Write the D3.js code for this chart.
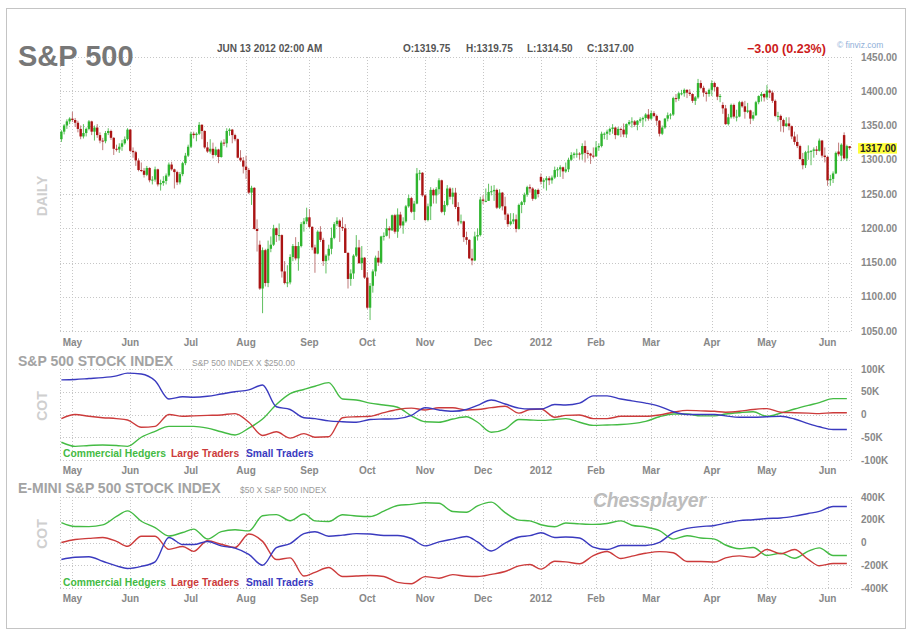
<!DOCTYPE html>
<html>
<head>
<meta charset="utf-8">
<script src="https://cdn.jsdelivr.net/npm/d3@7"></script>
<style>
  body { margin: 0; background: #fff; }
</style>
</head>
<body>
<script>
const FONT = 'Liberation Sans, Arial, Helvetica, sans-serif'
const GRID = '#c6c6c6'
const TXT = '#888888'
const UP = '#2fb52f', UP_WICK = '#5fbf5f'
const DOWN = '#aa1414', DOWN_WICK = '#c07a7a'
const C_HEDGE = '#44bb44', C_LARGE = '#cc3b3b', C_SMALL = '#3a3abf'

// trading calendar
const firstDay = '2011-04-26', lastDay = '2012-06-13'
const holidays = ['2011-05-30', '2011-07-04', '2011-09-05', '2011-11-24', '2011-12-26',
  '2012-01-02', '2012-01-16', '2012-02-20', '2012-04-06', '2012-05-28']

// daily bars [open, high, low, close]
const ohlc = [
  // Apr 2011
  [1330,1343,1326,1341],[1341,1352,1337,1350],[1350,1359,1345,1356],[1356,1362,1352,1360],
  // May
  [1360,1370,1355,1358],[1358,1361,1348,1354],[1354,1357,1340,1345],[1345,1350,1330,1334],[1334,1352,1331,1339],
  [1339,1347,1334,1345],[1345,1358,1343,1356],[1356,1357,1336,1341],[1341,1350,1328,1347],[1347,1352,1332,1336],
  [1336,1340,1324,1328],[1328,1332,1314,1327],[1327,1342,1324,1339],[1339,1346,1336,1342],[1342,1344,1329,1332],
  [1332,1333,1307,1316],[1316,1322,1312,1315],[1315,1324,1310,1319],[1319,1329,1313,1324],[1324,1334,1322,1330],
  [1330,1346,1328,1344],
  // Jun
  [1344,1345,1311,1313],[1313,1318,1303,1311],[1311,1313,1291,1299],[1299,1302,1283,1285],[1285,1296,1282,1284],
  [1284,1288,1274,1278],[1278,1291,1276,1288],[1288,1289,1267,1270],[1270,1276,1264,1271],[1271,1290,1268,1286],
  [1286,1287,1261,1264],[1264,1271,1255,1266],[1266,1276,1262,1269],[1269,1280,1264,1277],[1277,1296,1275,1293],
  [1293,1297,1284,1286],[1286,1287,1258,1282],[1282,1284,1263,1267],[1267,1282,1264,1279],[1279,1297,1276,1295],
  [1295,1310,1292,1306],[1306,1322,1304,1319],
  // Jul
  [1319,1341,1317,1338],[1338,1341,1331,1336],[1336,1340,1327,1338],[1338,1355,1336,1351],[1351,1352,1330,1342],
  [1342,1343,1316,1318],[1318,1326,1310,1312],[1312,1330,1309,1316],[1316,1325,1302,1307],[1307,1319,1305,1315],
  [1315,1316,1295,1304],[1304,1328,1303,1325],[1325,1330,1320,1324],[1324,1346,1318,1342],[1342,1346,1335,1344],
  [1344,1345,1324,1336],[1336,1338,1327,1330],[1330,1331,1302,1303],[1303,1314,1297,1299],[1299,1304,1280,1290],
  // Aug
  [1290,1306,1272,1285],[1285,1288,1250,1252],[1252,1262,1234,1259],[1259,1260,1198,1199],[1199,1213,1166,1196],
  [1176,1182,1110,1112],[1112,1172,1076,1168],[1168,1170,1115,1120],[1120,1182,1114,1170],[1170,1188,1165,1176],
  [1176,1205,1174,1200],[1200,1201,1180,1190],[1190,1207,1182,1190],[1190,1191,1128,1137],[1137,1152,1118,1120],
  [1120,1146,1114,1121],[1121,1162,1118,1158],[1158,1177,1152,1174],[1174,1187,1153,1156],[1156,1180,1138,1174],
  [1174,1209,1172,1206],[1206,1215,1195,1210],[1210,1230,1206,1216],
  // Sep
  [1216,1228,1200,1202],[1202,1203,1168,1172],[1172,1176,1135,1163],[1163,1197,1162,1195],[1195,1203,1180,1183],
  [1183,1186,1145,1152],[1152,1162,1134,1160],[1160,1176,1153,1170],[1170,1201,1162,1186],[1186,1209,1184,1206],
  [1206,1216,1203,1211],[1211,1213,1180,1202],[1202,1216,1196,1200],[1200,1206,1164,1164],[1164,1165,1112,1126],
  [1126,1140,1116,1134],[1134,1162,1126,1160],[1160,1190,1158,1172],[1172,1183,1148,1149],[1149,1174,1139,1157],
  [1157,1158,1126,1128],
  // Oct
  [1128,1136,1082,1084],[1084,1120,1066,1116],[1116,1140,1106,1137],[1137,1160,1130,1157],[1157,1167,1145,1150],
  [1150,1189,1148,1188],[1188,1194,1182,1189],[1189,1214,1188,1200],[1200,1203,1185,1197],[1197,1220,1196,1219],
  [1219,1221,1192,1195],[1195,1229,1186,1220],[1220,1224,1200,1204],[1204,1216,1192,1210],[1210,1234,1208,1232],
  [1232,1249,1230,1244],[1244,1246,1222,1224],[1224,1240,1212,1236],[1236,1288,1235,1280],[1280,1285,1270,1281],
  [1281,1282,1246,1248],
  // Nov
  [1248,1250,1210,1212],[1212,1236,1210,1232],[1232,1260,1212,1256],[1256,1258,1236,1248],[1248,1260,1236,1257],
  [1257,1273,1250,1270],[1270,1271,1222,1224],[1224,1240,1219,1234],[1234,1263,1232,1258],[1258,1260,1242,1246],
  [1246,1259,1235,1252],[1252,1259,1228,1231],[1231,1238,1204,1210],[1210,1220,1206,1210],[1210,1211,1180,1187],
  [1187,1195,1176,1183],[1183,1184,1155,1156],[1156,1170,1146,1153],[1153,1195,1152,1188],[1188,1200,1182,1190],
  [1190,1246,1188,1242],
  // Dec
  [1242,1248,1235,1240],[1240,1258,1238,1240],[1240,1265,1240,1253],[1253,1262,1248,1254],[1254,1263,1240,1256],
  [1256,1258,1228,1230],[1230,1257,1228,1252],[1252,1253,1226,1232],[1232,1246,1212,1220],[1220,1222,1202,1206],
  [1206,1222,1204,1210],[1210,1222,1206,1213],[1213,1220,1194,1199],[1199,1236,1198,1234],[1234,1240,1222,1238],
  [1238,1252,1234,1249],[1249,1262,1246,1260],[1260,1264,1252,1258],[1258,1260,1240,1243],[1243,1257,1242,1256],
  [1256,1258,1245,1250],
  // Jan 2012
  [1275,1280,1264,1268],[1268,1273,1258,1270],[1270,1276,1255,1273],[1273,1276,1263,1270],[1270,1277,1265,1274],
  [1274,1290,1272,1285],[1285,1289,1275,1286],[1286,1292,1275,1289],[1289,1290,1272,1283],[1283,1296,1281,1286],
  [1286,1303,1282,1300],[1300,1311,1298,1307],[1307,1311,1302,1309],[1309,1316,1303,1309],[1309,1311,1300,1308],
  [1308,1324,1300,1320],[1320,1328,1296,1310],[1310,1314,1302,1309],[1309,1310,1294,1306],[1306,1318,1302,1305],
  // Feb
  [1305,1327,1304,1318],[1318,1324,1313,1320],[1320,1341,1318,1338],[1338,1340,1330,1338],[1338,1344,1329,1341],
  [1341,1347,1336,1345],[1345,1352,1338,1347],[1347,1348,1330,1336],[1336,1348,1335,1345],[1345,1347,1333,1344],
  [1344,1353,1333,1337],[1337,1353,1332,1352],[1352,1358,1350,1355],[1355,1362,1347,1356],[1356,1358,1348,1351],
  [1351,1358,1343,1357],[1357,1362,1354,1359],[1359,1363,1348,1361],[1361,1368,1356,1366],[1366,1374,1357,1360],
  // Mar
  [1360,1372,1358,1368],[1368,1371,1362,1364],[1364,1366,1350,1357],[1357,1358,1334,1338],[1338,1350,1336,1347],
  [1347,1361,1345,1360],[1360,1369,1356,1365],[1365,1368,1359,1366],[1366,1392,1364,1390],[1390,1396,1384,1389],
  [1389,1399,1386,1397],[1397,1402,1394,1397],[1397,1404,1392,1402],[1402,1403,1390,1398],[1398,1403,1393,1396],
  [1396,1397,1383,1386],[1386,1393,1380,1391],[1391,1418,1389,1412],[1412,1416,1403,1405],[1405,1408,1392,1398],
  [1398,1400,1385,1396],[1396,1404,1392,1402],
  // Apr
  [1402,1416,1393,1412],[1412,1414,1400,1406],[1406,1407,1387,1392],[1392,1396,1384,1393],[1380,1384,1367,1375],
  [1375,1380,1351,1352],[1352,1367,1350,1362],[1362,1382,1360,1380],[1380,1382,1360,1363],[1363,1373,1356,1363],
  [1363,1386,1362,1384],[1384,1386,1376,1378],[1378,1386,1360,1370],[1370,1383,1368,1372],[1372,1373,1352,1360],
  [1360,1370,1357,1365],[1365,1386,1364,1384],[1384,1394,1381,1393],[1393,1399,1385,1396],[1396,1397,1385,1391],
  // May
  [1391,1409,1388,1401],[1401,1403,1390,1398],[1398,1401,1383,1386],[1386,1388,1362,1364],[1364,1370,1356,1364],
  [1364,1366,1341,1358],[1358,1360,1340,1349],[1349,1362,1348,1353],[1353,1362,1343,1349],[1349,1350,1330,1334],
  [1334,1341,1322,1326],[1326,1337,1317,1320],[1320,1322,1300,1301],[1301,1310,1286,1292],[1292,1313,1288,1311],
  [1311,1321,1300,1312],[1312,1314,1292,1313],[1313,1318,1303,1315],[1315,1320,1307,1313],[1313,1331,1312,1328],
  [1328,1329,1303,1306],[1306,1318,1296,1304],
  // Jun
  [1304,1306,1262,1270],[1270,1278,1262,1272],[1272,1283,1266,1280],[1280,1312,1279,1310],[1312,1325,1305,1308],
  [1306,1324,1298,1322],[1336,1340,1300,1302],[1302,1322,1298,1320],[1319.75,1319.75,1314.5,1317]
]

// weekly COT positions (thousands of contracts), one value per Tuesday
const spHedgers = [-61,-70,-68,-67,-68,-70,-50,-37,-26,-26, -26,-30,-38,-45,-30,-10,22,46,55,62,
  70,34,32,25,21,16,-3,-16,-17,-10, -5,-17,-39,-32,-11,-12,-13,-11,-9,-17,
  -24,-23,-22,-20,-15,-5,1,1,-3,-3, 1,4,6,-4,3,12,20,26,35,35]
const spLarge = [-9,0,-4,-7,-9,-12,-28,-26,0,-4, -3,-2,-1,2,-17,-46,-38,-52,-42,-50,
  -49,-7,-5,-4,4,11,14,10,15,15, 10,11,15,18,3,11,12,-6,-2,-1,
  -9,-9,-4,-4,-4,-1,5,9,8,7, 5,7,11,13,5,4,3,2,4,4]
const spSmall = [76,77,79,81,85,91,89,74,34,39, 38,40,45,50,54,65,17,11,-7,-9,
  -14,-16,-17,-11,-10,-9,-2,15,10,7, 11,20,32,23,14,12,12,22,21,25,
  41,41,34,30,25,18,6,0,0,0, -3,-6,-6,-5,-4,-10,-20,-27,-33,-33]
const emHedgers = [175,141,140,155,229,278,187,130,57,88, 118,31,95,112,102,235,245,191,250,190,
  184,244,233,228,275,325,335,350,345,272, 266,322,355,263,197,190,156,138,172,164,
  159,167,190,152,136,105,30,60,40,30, -22,-55,-44,-114,-94,-139,-76,-47,-114,-114]
const emLarge = [0,26,36,44,10,-33,55,55,-60,-35, -78,15,-15,-44,75,10,-150,-135,-295,-262,
  -220,-299,-295,-290,-299,-350,-362,-300,-314,-282, -297,-299,-280,-255,-206,-193,-234,-165,-170,-187,
  -115,-79,-141,-120,-95,-80,-90,-167,-167,-172, -135,-118,-130,-62,-100,-62,-149,-205,-185,-185]
const emSmall = [-149,-130,-125,-165,-205,-229,-210,-170,44,-18, -18,9,-30,-50,-105,-200,-45,-10,78,95,
  55,65,78,75,62,62,35,-30,5,30, 53,5,-75,-5,48,60,86,44,49,40,
  -40,-62,-27,-26,-26,2,87,124,140,150, 170,192,200,211,216,232,255,273,317,317]

const priceTicks = [1050, 1100, 1150, 1200, 1250, 1300, 1350, 1400, 1450]
const spTicks = [-100, -50, 0, 50, 100]
const emTicks = [-400, -200, 0, 200, 400]
const legend = ['Commercial Hedgers', 'Large Traders', 'Small Traders']
const stamp = 'JUN 13 2012 02:00 AM'

const W = 913, H = 641
const X0 = 60, X1 = 851

const parse = d3.timeParse('%Y-%m-%d'), key = d3.timeFormat('%Y-%m-%d')
const off = new Set(holidays)
const days = d3.timeDay.range(parse(firstDay), d3.timeDay.offset(parse(lastDay), 1))
  .filter(d => d.getDay() % 6 !== 0 && !off.has(key(d)))
const n = Math.min(days.length, ohlc.length)
const bars = d3.range(n).map(i => ({ date: days[i], o: ohlc[i][0], h: ohlc[i][1], l: ohlc[i][2], c: ohlc[i][3] }))
const dayIndex = new Map(days.map((d, i) => [key(d), i]))
const weeks = d3.timeTuesday.range(parse(firstDay), d3.timeDay.offset(parse(lastDay), 1))

const x = d3.scaleBand().domain(d3.range(n)).range([X0, X1])
const cx = i => x(i) + x.bandwidth() / 2
const monthStarts = d3.range(1, n).filter(i => bars[i].date.getMonth() !== bars[i - 1].date.getMonth())
const monthLabel = d => d.getMonth() === 0 ? d3.timeFormat('%Y')(d) : d3.timeFormat('%b')(d)

const svg = d3.select('body').append('svg')
  .attr('width', W).attr('height', H).style('display', 'block')
  .style('font-family', FONT)

svg.append('rect').attr('x', 6.5).attr('y', 8.5).attr('width', 899).attr('height', 620)
  .attr('fill', '#fff').attr('stroke', '#c4c4c4')

function grid(g, y, ticks, top, bottom) {
  g.selectAll('.hg').data(ticks).join('line').attr('class', 'hg')
    .attr('x1', X0).attr('x2', X1).attr('y1', d => Math.round(y(d)) + 0.5).attr('y2', d => Math.round(y(d)) + 0.5)
    .attr('stroke', GRID).attr('stroke-dasharray', '1,2')
  const vx = [X0, ...monthStarts.map(cx), X1]
  g.selectAll('.vg').data(vx).join('line').attr('class', 'vg')
    .attr('x1', d => Math.round(d) + 0.5).attr('x2', d => Math.round(d) + 0.5).attr('y1', top).attr('y2', bottom)
    .attr('stroke', GRID).attr('stroke-dasharray', '1,2')
}

function monthAxis(g, yText) {
  g.selectAll('.ml').data(monthStarts).join('text').attr('class', 'ml')
    .attr('x', cx).attr('y', yText).attr('text-anchor', 'middle').attr('dy', '0.35em')
    .attr('font-size', 10).attr('font-weight', 'bold').attr('fill', TXT)
    .text(i => monthLabel(bars[i].date))
}

function yLabels(g, y, ticks, fmt) {
  g.selectAll('.yl').data(ticks).join('text').attr('class', 'yl')
    .attr('x', 861).attr('y', d => y(d)).attr('dy', '0.35em')
    .attr('font-size', 10).attr('font-weight', 'bold').attr('fill', TXT)
    .text(fmt)
}

function sideLabel(text, xc, yc) {
  svg.append('text').attr('transform', `translate(${xc},${yc}) rotate(-90)`)
    .attr('text-anchor', 'middle').attr('dy', '0.35em')
    .attr('font-size', 14).attr('font-weight', 'bold').attr('fill', '#cfcfcf').text(text)
}

// ---- price panel
const yP = d3.scaleLinear().domain([1050, 1450]).range([331, 57])
const gP = svg.append('g')
grid(gP, yP, priceTicks, 57, 331)
monthAxis(gP, 342)
yLabels(gP, yP, priceTicks, d3.format('.2f'))

const candle = gP.append('g').selectAll('g').data(bars).join('g')
candle.append('line')
  .attr('x1', (d, i) => cx(i)).attr('x2', (d, i) => cx(i))
  .attr('y1', d => yP(d.h)).attr('y2', d => yP(d.l))
  .attr('stroke', d => d.c >= d.o ? UP_WICK : DOWN_WICK).attr('stroke-width', 1)
candle.append('rect')
  .attr('x', (d, i) => cx(i) - 1.2).attr('width', 2.4)
  .attr('y', d => yP(Math.max(d.o, d.c)))
  .attr('height', d => Math.max(1, Math.abs(yP(d.o) - yP(d.c))))
  .attr('fill', d => d.c >= d.o ? UP : DOWN)

const last = bars[n - 1], prev = bars[n - 2]
gP.append('rect').attr('x', 858).attr('y', yP(last.c) - 5).attr('width', 39).attr('height', 10.5).attr('fill', '#ffff3a')
gP.append('text').attr('x', 860).attr('y', yP(last.c)).attr('dy', '0.36em')
  .attr('font-size', 10).attr('font-weight', 'bold').attr('fill', '#222').text(d3.format('.2f')(last.c))

sideLabel('DAILY', 42, 196)

// header
svg.append('text').attr('x', 18).attr('y', 66).attr('font-size', 29).attr('font-weight', 'bold')
  .attr('fill', '#777').text('S&P 500')
svg.append('text').attr('x', 217).attr('y', 51.5).attr('font-size', 10).attr('font-weight', 'bold')
  .attr('fill', '#555').text(stamp)
const f2 = d3.format('.2f')
const quote = [['O:', last.o, 403], ['H:', last.h, 466], ['L:', last.l, 527], ['C:', last.c, 587]]
svg.selectAll('.q').data(quote).join('text').attr('class', 'q')
  .attr('x', d => d[2]).attr('y', 51.5).attr('font-size', 10).attr('font-weight', 'bold')
  .attr('fill', '#555').text(d => d[0] + f2(d[1]))
const chg = last.c - prev.c
svg.append('text').attr('x', 747).attr('y', 52.5).attr('font-size', 12.5).attr('font-weight', 'bold')
  .attr('fill', '#cc1a1a').text(`${f2(chg)} (${f2(Math.abs(chg) / prev.c * 100)}%)`)
svg.append('text').attr('x', 837).attr('y', 48).attr('font-size', 8.5)
  .attr('fill', '#8fb0d8').text('\u00a9 finviz.com')

// ---- COT panels
function cotPanel(top, bottom, domain, ticks, series, title, subtitle, titleY, subX, legendY, axisY, cotY) {
  const y = d3.scaleLinear().domain(domain).range([bottom, top])
  const g = svg.append('g')
  grid(g, y, ticks, top, bottom)
  monthAxis(g, axisY)
  yLabels(g, y, ticks, d => d === 0 ? '0' : d + 'K')
  const line = d3.line()
    .x((d, i) => cx(dayIndex.get(key(weeks[i]))))
    .y(d => y(d))
    .curve(d3.curveMonotoneX)
  g.selectAll('.cot').data(series).join('path').attr('class', 'cot')
    .attr('d', d => line(d.values.slice(0, weeks.length)))
    .attr('fill', 'none').attr('stroke', d => d.color).attr('stroke-width', 1.4)
  svg.append('text').attr('x', 18).attr('y', titleY).attr('font-size', 14).attr('font-weight', 'bold')
    .attr('fill', '#a3a3a3').text(title)
  svg.append('text').attr('x', subX).attr('y', titleY).attr('font-size', 8.5)
    .attr('fill', '#9a9a9a').text(subtitle)
  const lx = [63, 171, 246]
  g.selectAll('.lg').data(series).join('text').attr('class', 'lg')
    .attr('x', (d, i) => lx[i]).attr('y', legendY).attr('dy', '0.35em')
    .attr('font-size', 10.3).attr('font-weight', 'bold').attr('fill', d => d.color).text(d => d.name)
  sideLabel('COT', 42, cotY)
}

cotPanel(369, 460, [-100, 100], spTicks, [
  { name: legend[0], values: spHedgers, color: C_HEDGE },
  { name: legend[1], values: spLarge, color: C_LARGE },
  { name: legend[2], values: spSmall, color: C_SMALL }
], 'S&P 500 STOCK INDEX', 'S&P 500 INDEX X $250.00', 366, 192, 453, 470, 406)

cotPanel(497, 588, [-400, 400], emTicks, [
  { name: legend[0], values: emHedgers, color: C_HEDGE },
  { name: legend[1], values: emLarge, color: C_LARGE },
  { name: legend[2], values: emSmall, color: C_SMALL }
], 'E-MINI S&P 500 STOCK INDEX', '$50 X S&P 500 INDEX', 493, 240, 582, 598, 534)

svg.append('text').attr('x', 593).attr('y', 507).attr('font-size', 19.5).attr('font-weight', 'bold')
  .attr('font-style', 'italic').attr('fill', '#bdbdbd').attr('letter-spacing', -0.3).text('Chessplayer')
</script>
</body>
</html>
